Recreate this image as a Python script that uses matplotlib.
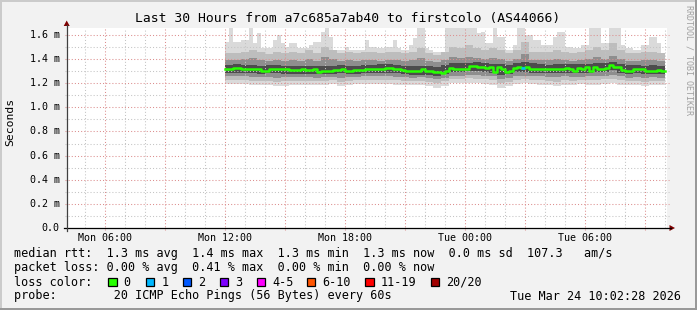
import matplotlib
matplotlib.use('Agg')
import matplotlib.pyplot as plt
from matplotlib.lines import Line2D
from matplotlib.patches import Polygon, Rectangle
from matplotlib.transforms import blended_transform_factory
import numpy as np

W, H = 697, 310
plt.rcParams['font.family'] = 'DejaVu Sans Mono'

# time axis in hours since Mon 00:00
t_start, t_end = 4.07, 34.07
data_start = 12.0
step_fine = 0.2      # 12 min per median / max sample
y_top = 1.658        # ms

x_major = [6, 9, 12, 15, 18, 21, 24, 27, 30, 33]
x_labels = {6: 'Mon 06:00', 12: 'Mon 12:00', 18: 'Mon 18:00', 24: 'Tue 00:00', 30: 'Tue 06:00'}
y_major = [0.0, 0.2, 0.4, 0.6, 0.8, 1.0, 1.2, 1.4, 1.6]

# median rtt (ms), one value per 12 min
rtt_median = [1.317, 1.317, 1.328, 1.328, 1.319, 1.319, 1.314, 1.314, 1.314, 1.303,
              1.303, 1.319, 1.314, 1.314, 1.314, 1.314, 1.311, 1.311, 1.308, 1.314,
              1.308, 1.308, 1.314, 1.297, 1.303, 1.303, 1.303, 1.308, 1.311, 1.319,
              1.303, 1.303, 1.308, 1.308, 1.308, 1.314, 1.322, 1.322, 1.314, 1.314,
              1.328, 1.328, 1.319, 1.319, 1.311, 1.303, 1.303, 1.303, 1.303, 1.314,
              1.300, 1.300, 1.292, 1.292, 1.283, 1.300, 1.328, 1.322, 1.317, 1.319,
              1.319, 1.344, 1.344, 1.331, 1.331, 1.325, 1.333, 1.294, 1.336, 1.314,
              1.294, 1.300, 1.328, 1.331, 1.328, 1.336, 1.319, 1.319, 1.319, 1.314,
              1.314, 1.319, 1.322, 1.314, 1.319, 1.328, 1.322, 1.303, 1.328, 1.314,
              1.331, 1.303, 1.333, 1.322, 1.322, 1.328, 1.350, 1.336, 1.336, 1.311,
              1.303, 1.303, 1.314, 1.317, 1.317, 1.300, 1.300, 1.303, 1.311, 1.303]

# highest ping (ms), one value per 12 min
rtt_max = [1.544, 1.661, 1.544, 1.544, 1.558, 1.558, 1.656, 1.531, 1.614, 1.489,
           1.494, 1.494, 1.558, 1.600, 1.531, 1.503, 1.531, 1.531, 1.489, 1.489,
           1.489, 1.517, 1.544, 1.544, 1.628, 1.656, 1.586, 1.475, 1.475, 1.475,
           1.503, 1.475, 1.475, 1.475, 1.475, 1.558, 1.503, 1.503, 1.489, 1.489,
           1.503, 1.503, 1.558, 1.489, 1.475, 1.475, 1.517, 1.572, 1.656, 1.656,
           1.489, 1.475, 1.461, 1.461, 1.447, 1.656, 1.656, 1.656, 1.656, 1.656,
           1.656, 1.656, 1.656, 1.614, 1.628, 1.531, 1.531, 1.656, 1.586, 1.586,
           1.475, 1.475, 1.517, 1.656, 1.656, 1.600, 1.600, 1.558, 1.558, 1.517,
           1.517, 1.517, 1.586, 1.628, 1.628, 1.503, 1.503, 1.489, 1.489, 1.517,
           1.517, 1.656, 1.656, 1.656, 1.531, 1.531, 1.656, 1.656, 1.656, 1.517,
           1.489, 1.489, 1.475, 1.475, 1.517, 1.517, 1.586, 1.586, 1.531, 1.447]

# ping spread (ms), one value per 24 min
rtt_p90 = [1.447, 1.447, 1.461, 1.475, 1.461, 1.439, 1.461, 1.447, 1.461, 1.447,
           1.475, 1.447, 1.503, 1.475, 1.447, 1.461, 1.447, 1.461, 1.461, 1.447,
           1.461, 1.461, 1.447, 1.461, 1.489, 1.447, 1.433, 1.461, 1.503, 1.489,
           1.517, 1.489, 1.475, 1.489, 1.475, 1.447, 1.475, 1.544, 1.461, 1.461,
           1.461, 1.475, 1.461, 1.447, 1.461, 1.475, 1.503, 1.475, 1.531, 1.475,
           1.447, 1.447, 1.461, 1.461, 1.447]
rtt_p75 = [1.392, 1.392, 1.400, 1.406, 1.392, 1.385, 1.392, 1.385, 1.392, 1.385,
           1.400, 1.385, 1.415, 1.400, 1.385, 1.392, 1.385, 1.392, 1.392, 1.385,
           1.392, 1.392, 1.385, 1.392, 1.406, 1.385, 1.378, 1.392, 1.415, 1.406,
           1.420, 1.406, 1.400, 1.406, 1.400, 1.385, 1.400, 1.440, 1.392, 1.392,
           1.392, 1.400, 1.392, 1.385, 1.392, 1.400, 1.415, 1.400, 1.425, 1.400,
           1.385, 1.385, 1.392, 1.392, 1.385]
rtt_p60 = [1.353, 1.356, 1.353, 1.350, 1.347, 1.350, 1.350, 1.347, 1.347, 1.345,
           1.345, 1.342, 1.342, 1.345, 1.350, 1.345, 1.347, 1.350, 1.353, 1.356,
           1.356, 1.350, 1.347, 1.342, 1.342, 1.342, 1.336, 1.350, 1.364, 1.364,
           1.370, 1.378, 1.364, 1.360, 1.356, 1.350, 1.364, 1.378, 1.364, 1.356,
           1.353, 1.360, 1.360, 1.356, 1.360, 1.360, 1.364, 1.367, 1.378, 1.360,
           1.350, 1.353, 1.347, 1.350, 1.347]
rtt_p40 = [1.286, 1.289, 1.286, 1.283, 1.280, 1.283, 1.283, 1.280, 1.278, 1.278,
           1.278, 1.275, 1.275, 1.280, 1.283, 1.278, 1.280, 1.283, 1.286, 1.289,
           1.286, 1.283, 1.278, 1.272, 1.272, 1.270, 1.264, 1.280, 1.292, 1.292,
           1.303, 1.300, 1.292, 1.286, 1.272, 1.280, 1.292, 1.297, 1.289, 1.286,
           1.283, 1.289, 1.289, 1.283, 1.286, 1.289, 1.292, 1.294, 1.306, 1.289,
           1.278, 1.283, 1.275, 1.280, 1.278]
rtt_p25 = [1.258, 1.258, 1.256, 1.253, 1.250, 1.253, 1.247, 1.250, 1.250, 1.250,
           1.250, 1.247, 1.250, 1.253, 1.245, 1.250, 1.253, 1.256, 1.256, 1.258,
           1.256, 1.253, 1.250, 1.245, 1.250, 1.245, 1.236, 1.247, 1.264, 1.264,
           1.272, 1.270, 1.264, 1.258, 1.239, 1.245, 1.258, 1.264, 1.258, 1.256,
           1.253, 1.250, 1.256, 1.253, 1.253, 1.256, 1.258, 1.264, 1.270, 1.256,
           1.247, 1.250, 1.245, 1.250, 1.247]
rtt_p10 = [1.228, 1.228, 1.225, 1.222, 1.222, 1.222, 1.214, 1.219, 1.222, 1.222,
           1.222, 1.219, 1.222, 1.225, 1.211, 1.219, 1.225, 1.228, 1.225, 1.228,
           1.228, 1.225, 1.222, 1.217, 1.222, 1.211, 1.200, 1.217, 1.236, 1.236,
           1.242, 1.239, 1.233, 1.225, 1.203, 1.211, 1.228, 1.233, 1.228, 1.225,
           1.222, 1.214, 1.225, 1.222, 1.225, 1.225, 1.225, 1.233, 1.236, 1.225,
           1.219, 1.222, 1.214, 1.219, 1.217]
rtt_min = [1.192, 1.194, 1.192, 1.189, 1.189, 1.189, 1.175, 1.178, 1.189, 1.189,
           1.189, 1.189, 1.189, 1.192, 1.180, 1.186, 1.192, 1.194, 1.192, 1.192,
           1.194, 1.189, 1.186, 1.183, 1.189, 1.175, 1.161, 1.178, 1.200, 1.200,
           1.206, 1.203, 1.197, 1.186, 1.164, 1.175, 1.192, 1.200, 1.194, 1.189,
           1.186, 1.178, 1.189, 1.189, 1.192, 1.189, 1.183, 1.194, 1.200, 1.189,
           1.183, 1.186, 1.178, 1.186, 1.183]

# lost pings (of 20) at sample start times (hours)
loss_times = [26.8]
loss_counts = [1]

loss_legend = ['0', '1', '2', '3', '4-5', '6-10', '11-19', '20/20']
loss_colors = ['#26ff00', '#00b8ff', '#0059ff', '#7e00ff', '#ff00ff', '#ff5500', '#ff0000', '#a10000']


def loss_color(n):
    for lim, c in zip([0, 1, 2, 3, 5, 10, 19, 20], loss_colors):
        if n <= lim:
            return c
    return loss_colors[-1]


def fx(px):
    return px / W


def fy(py):
    return 1 - py / H


fig = plt.figure(figsize=(W / 100, H / 100), dpi=100)
fig.patch.set_facecolor('#f2f2f2')

# 3d frame
fig.add_artist(Rectangle((0, 0), fx(2), 1, transform=fig.transFigure, color='#cbcbcb', lw=0))
fig.add_artist(Rectangle((0, fy(2)), 1, 2 / H, transform=fig.transFigure, color='#cbcbcb', lw=0))
fig.add_artist(Rectangle((fx(W - 2), 0), fx(2), 1, transform=fig.transFigure, color='#999999', lw=0))
fig.add_artist(Rectangle((0, 0), 1, 2 / H, transform=fig.transFigure, color='#999999', lw=0))

ax = fig.add_axes([fx(66.7), fy(228), 600 / W, 200 / H])
ax.set_facecolor('white')
ax.set_xlim(t_start, t_end)
ax.set_ylim(0, y_top)
for s in ax.spines.values():
    s.set_visible(False)
ax.set_xticks([])
ax.set_yticks([])

# smoke
n = len(rtt_median)
t_edges = data_start + step_fine * np.arange(n + 1)


def stepped(v, rep=1):
    v = np.repeat(np.asarray(v), rep)
    return np.append(v, v[-1])


layers = [(rtt_min, rtt_max, '#dadada'),
          (rtt_p10, rtt_p90, '#bdbdbd'),
          (rtt_p25, rtt_p75, '#8e8e8e'),
          (rtt_p40, rtt_p60, '#4c4c4c')]
for lo, hi, col in layers:
    lo_r = 2 if len(lo) < n else 1
    hi_r = 2 if len(hi) < n else 1
    ax.fill_between(t_edges, stepped(lo, lo_r), stepped(hi, hi_r), step='post',
                    color=col, lw=0, zorder=2)

# grid (drawn over the smoke like rrdtool does)
dots = (0, (1, 2))
for h in range(5, 35):
    if h % 3 == 0:
        continue
    ax.plot([h, h], [0, y_top], color='#c4c4c4', lw=0.75, ls=dots, zorder=4)
for h in x_major:
    ax.plot([h, h], [-0.017, y_top], color='#dc8e8e', lw=0.75, ls=dots, zorder=4, clip_on=False)
for k in range(1, 17):
    yv = k * 0.1
    col = '#c4c4c4' if k % 2 else '#dc8e8e'
    ax.plot([t_start - 0.1, t_end + 0.1], [yv, yv], color=col, lw=0.75, ls=dots,
            zorder=4, clip_on=False)

# median line, coloured by loss
ax.step(t_edges, stepped(rtt_median), where='post', color=loss_colors[0], lw=1.8, zorder=6)
for lt, lc in zip(loss_times, loss_counts):
    i = int(round((lt - data_start) / step_fine))
    ax.hlines(rtt_median[i], lt, lt + step_fine, color=loss_color(lc), lw=1.8, zorder=7)

# axes with arrows
fig.add_artist(Line2D([fx(64), fx(671)], [fy(228), fy(228)], transform=fig.transFigure,
                      color='#000000', lw=0.9))
fig.add_artist(Line2D([fx(66.7), fx(66.7)], [fy(231), fy(25)], transform=fig.transFigure,
                      color='#404040', lw=0.9))
fig.add_artist(Polygon([(fx(669.5), fy(225)), (fx(669.5), fy(231)), (fx(675), fy(228))],
                       closed=True, transform=fig.transFigure, color='#7f0000', lw=0))
fig.add_artist(Polygon([(fx(63.7), fy(26)), (fx(69.7), fy(26)), (fx(66.7), fy(20.5))],
                       closed=True, transform=fig.transFigure, color='#7f0000', lw=0))

# tick labels
tr_x = blended_transform_factory(ax.transData, ax.transAxes)
for h, lab in x_labels.items():
    ax.text(h, -(237.8 - 228) / 200, lab, transform=tr_x, ha='center', va='center',
            fontsize=7.2, color='#000000')
tr_y = blended_transform_factory(ax.transAxes, ax.transData)
for yv in y_major:
    lab = '0.0' if yv == 0 else f'{yv:.1f} m'
    ax.text(-7 / 600, yv, lab, transform=tr_y, ha='right', va='center', fontsize=7.2,
            color='#000000')

fig.text(fx(10.5), fy(122), 'Seconds', rotation=90, ha='center', va='center', fontsize=8.2)
fig.text(fx(348), fy(18.5), 'Last 30 Hours from a7c685a7ab40 to firstcolo (AS44066)',
         ha='center', va='center', fontsize=9.4)
fig.text(fx(688.5), fy(60), 'RRDTOOL / TOBI OETIKER', rotation=-90, ha='center', va='center',
         fontsize=6.0, color='#a0a0a0')

# legend
lx = fx(14.5)
fs = 8.5
fig.text(lx, fy(254), 'median rtt:  1.3 ms avg  1.4 ms max  1.3 ms min  1.3 ms now  '
         '0.0 ms sd  107.3   am/s', ha='left', va='center', fontsize=fs)
fig.text(lx, fy(268), 'packet loss: 0.00 % avg  0.41 % max  0.00 % min  0.00 % now',
         ha='left', va='center', fontsize=fs)
fig.text(lx, fy(282), 'loss color:', ha='left', va='center', fontsize=fs)
box_x = [108, 145.7, 182.7, 220, 256.7, 306.7, 365, 430.7]
for bx, lab, col in zip(box_x, loss_legend, loss_colors):
    fig.add_artist(Rectangle((fx(bx), fy(286)), 8.5 / W, 8.5 / H, transform=fig.transFigure,
                             facecolor=col, edgecolor='#000000', lw=0.9))
    fig.text(fx(bx + 15.5), fy(282), lab, ha='left', va='center', fontsize=fs)
fig.text(lx, fy(296), 'probe:        20 ICMP Echo Pings (56 Bytes) every 60s',
         ha='left', va='center', fontsize=fs)
fig.text(fx(681), fy(296), 'Tue Mar 24 10:02:28 2026', ha='right', va='center', fontsize=fs)

fig.savefig('out.png', dpi=100, facecolor=fig.get_facecolor())
